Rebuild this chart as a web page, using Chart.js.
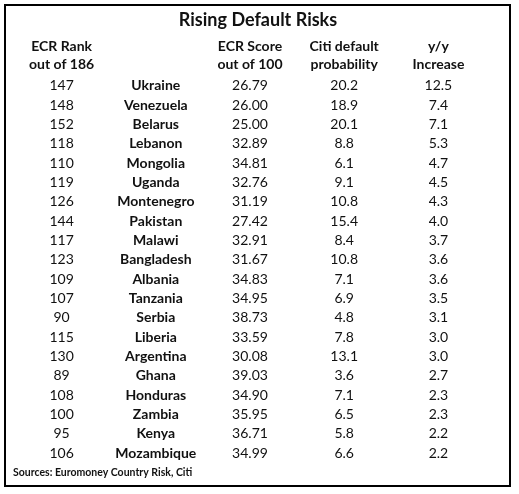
<!DOCTYPE html>
<html>
<head>
<meta charset="utf-8">
<script src="https://cdn.jsdelivr.net/npm/chart.js@4.4.1/dist/chart.umd.min.js"></script>
<style>
  html, body { margin: 0; padding: 0; background: #fff; }
  canvas { display: block; }
</style>
</head>
<body>
<canvas id="tableChart" width="519" height="494"></canvas>
<script>
// table data
const columns = ["rank", "country", "score", "citi", "yoy"];
const headerLine1 = ["ECR Rank", "", "ECR Score", "Citi default", "y/y"];
const headerLine2 = ["out of 186", "", "out of 100", "probability", "Increase"];

const countries = ["Ukraine", "Venezuela", "Belarus", "Lebanon", "Mongolia", "Uganda", "Montenegro",
  "Pakistan", "Malawi", "Bangladesh", "Albania", "Tanzania", "Serbia", "Liberia", "Argentina",
  "Ghana", "Honduras", "Zambia", "Kenya", "Mozambique"];
const ecrRank = [147, 148, 152, 118, 110, 119, 126, 144, 117, 123, 109, 107, 90, 115, 130, 89, 108, 100, 95, 106];
const ecrScore = [26.79, 26.00, 25.00, 32.89, 34.81, 32.76, 31.19, 27.42, 32.91, 31.67, 34.83, 34.95,
  38.73, 33.59, 30.08, 39.03, 34.90, 35.95, 36.71, 34.99];
const citiProb = [20.2, 18.9, 20.1, 8.8, 6.1, 9.1, 10.8, 15.4, 8.4, 10.8, 7.1, 6.9, 4.8, 7.8, 13.1, 3.6, 7.1, 6.5, 5.8, 6.6];
const yoyIncrease = [12.5, 7.4, 7.1, 5.3, 4.7, 4.5, 4.3, 4.0, 3.7, 3.6, 3.6, 3.5, 3.1, 3.0, 3.0, 2.7, 2.3, 2.3, 2.2, 2.2];

const titleText = "Rising Default Risks";
const sourceText = "Sources: Euromoney Country Risk, Citi";

const FONT = "Lato, 'Open Sans', sans-serif";
const INK = "#111";

// one cell per point, placed on the chart's scales
const cellText = [
  ecrRank.map((v) => String(v)),
  countries,
  ecrScore.map((v) => v.toFixed(2)),
  citiProb.map((v) => v.toFixed(1)),
  yoyIncrease.map((v) => v.toFixed(1)),
];

const datasets = columns.map((col, c) => ({
  label: col,
  data: cellText[c].map((t, r) => ({ x: col, y: r })),
  pointRadius: 0,
  pointHoverRadius: 0,
}));

const tablePlugin = {
  id: "tableText",
  beforeDraw(chart) {
    const ctx = chart.ctx;
    ctx.save();
    ctx.fillStyle = "#fff";
    ctx.fillRect(0, 0, chart.width, chart.height);
    ctx.restore();
  },
  afterDatasetsDraw(chart) {
    const ctx = chart.ctx;
    const xs = chart.scales.x;
    const ys = chart.scales.y;
    ctx.save();
    ctx.fillStyle = INK;
    ctx.textBaseline = "middle";
    ctx.textAlign = "center";

    // cells
    chart.data.datasets.forEach((ds, c) => {
      const meta = chart.getDatasetMeta(c);
      ctx.font = (c === 1 ? "bold " : "") + "14px " + FONT;
      meta.data.forEach((pt, r) => {
        ctx.fillText(cellText[c][r], pt.x, pt.y);
      });
    });

    // header rows sit above row 0
    ctx.font = "bold 14px " + FONT;
    columns.forEach((col, c) => {
      const x = xs.getPixelForValue(c);
      ctx.fillText(headerLine1[c], x, ys.getPixelForValue(-2.02));
      ctx.fillText(headerLine2[c], x, ys.getPixelForValue(-1.09));
    });

    // title
    ctx.font = "bold 18px " + FONT;
    ctx.fillText(titleText, 258, 20);

    // source note
    ctx.textAlign = "left";
    ctx.font = "bold 10.5px " + FONT;
    ctx.fillText(sourceText, 13, 473);

    // frame
    ctx.strokeStyle = "#000";
    ctx.lineWidth = 2;
    ctx.strokeRect(5, 5, 505, 481);
    ctx.restore();
  },
};

new Chart(document.getElementById("tableChart"), {
  type: "scatter",
  data: { labels: columns, datasets: datasets },
  options: {
    responsive: false,
    devicePixelRatio: 1,
    animation: false,
    events: [],
    layout: { padding: { left: 14.5, right: 33.5, top: 76, bottom: 31 } },
    scales: {
      x: { type: "category", labels: columns, offset: true, display: false },
      y: { type: "linear", min: -0.5, max: 19.5, reverse: true, display: false },
    },
    plugins: {
      legend: { display: false },
      title: { display: false },
      tooltip: { enabled: false },
    },
  },
  plugins: [tablePlugin],
});
</script>
</body>
</html>
